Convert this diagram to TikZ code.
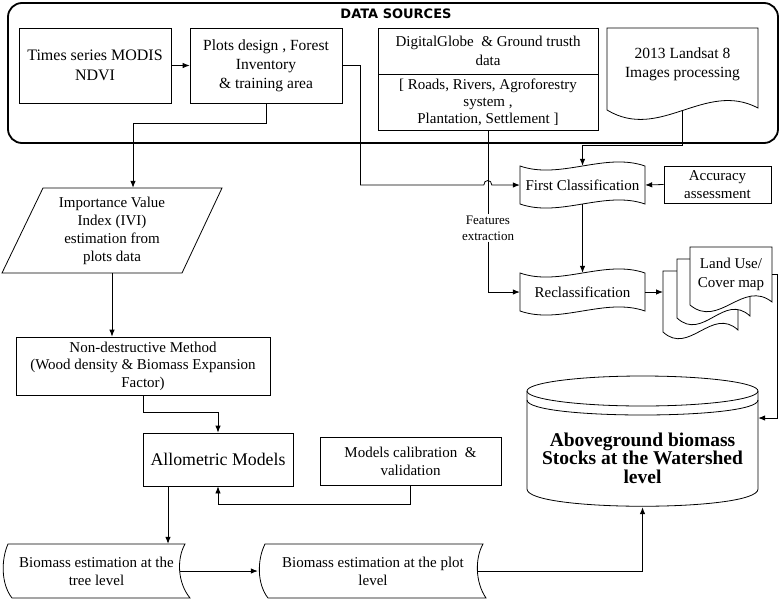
\documentclass[tikz,border=0pt]{standalone}
\usepackage{fontspec}
\setmainfont{Liberation Serif}
\newfontfamily\headfont{DejaVu Sans}
\usetikzlibrary{arrows.meta,positioning}

\begin{document}
\begin{tikzpicture}[x=1pt,y=-1pt,
	box/.style={draw,fill=white,line width=0.8pt,align=center,inner sep=0pt,font=\fontsize{15}{19}\selectfont},
	txt/.style={align=center,inner sep=0pt,font=\fontsize{15}{19}\selectfont},
	shp/.style={draw,fill=white,line width=0.8pt},
	conn/.style={line width=0.8pt,-{Latex[length=7pt,width=5.5pt]}}]
	\useasboundingbox (0,0) rectangle (784,600);
	% data sources frame
	\draw[line width=1.8pt,rounded corners=14pt] (8,3) rectangle (778,143);
	\node[font=\headfont\bfseries\fontsize{13}{15}\selectfont] (title) at (396,14) {DATA SOURCES};
	% shapes drawn by hand
	\draw[shp] (607,110) -- (607,28) -- (758,28) -- (758,108) .. controls (705,80) and (660,142) .. (607,110) -- cycle;
	\coordinate (lsbot) at (682.5,110.5);
	\draw[shp] (520,166) .. controls (560,180) and (605,152) .. (645,166) -- (645,204) .. controls (605,190) and (560,218) .. (520,204) -- cycle;
	\draw[shp] (520,273) .. controls (560,287) and (605,259) .. (645,273) -- (645,311) .. controls (605,297) and (560,325) .. (520,311) -- cycle;
	\draw[shp] (663,332) -- (663,271) -- (738,271) -- (738,330) .. controls (712,306) and (689,356) .. (663,332) -- cycle;
	\draw[shp] (677,318) -- (677,259) -- (750,259) -- (750,316) .. controls (724,292) and (703,342) .. (677,318) -- cycle;
	\draw[shp] (690,305) -- (690,247) -- (772,247) -- (772,302) .. controls (743,279) and (719,329) .. (690,305) -- cycle;
	\coordinate (mdoc) at (663,292);
	\draw[shp] (2,273) -- (43,188) -- (222,188) -- (182,273) -- cycle;
	\draw[shp] (8,544) -- (185,544) .. controls (177,558) and (177,582) .. (190,598) -- (12,598) .. controls (1,584) and (1,560) .. (8,544) -- cycle;
	\draw[shp] (265,544) -- (483,544) .. controls (475,558) and (475,582) .. (486,598) -- (268,598) .. controls (257,584) and (257,560) .. (265,544) -- cycle;
	% cylinder
	\draw[line width=0.8pt] (527,391) -- (527,489) .. controls (527,512) and (758,512) .. (758,489) -- (758,391);
	\draw[line width=0.8pt] (642.5,391) ellipse [x radius=115.5,y radius=15];
	\draw[line width=0.8pt] (527,400) .. controls (527,420) and (758,420) .. (758,400);
	% nodes
	\node[box,minimum width=152pt,minimum height=75pt,font=\fontsize{16}{20}\selectfont] (modis) at (95,65.5) {Times series MODIS\\NDVI};
	\node[box,minimum width=152pt,minimum height=75pt,font=\fontsize{15.5}{19}\selectfont] (plots) at (266,65.5) {Plots design , Forest\\Inventory\\\& training area};
	\node[box,minimum width=220pt,minimum height=46pt] (dgtop) at (488,51) {DigitalGlobe \ \& Ground trusth\\data};
	\node[box,minimum width=220pt,minimum height=56pt,font=\fontsize{15}{17}\selectfont] (dgbot) at (488,102) {[ Roads, Rivers, Agroforestry\\system ,\\Plantation, Settlement ]};
	\node[txt,minimum width=151pt,minimum height=72pt,font=\fontsize{15.5}{19}\selectfont] (landsat) at (682.5,64) {2013 Landsat 8\\Images processing};
	\node[txt,minimum width=125pt,minimum height=38pt] (fc) at (582.5,185) {First Classification};
	\node[txt,minimum width=125pt,minimum height=38pt] (rc) at (582.5,292) {Reclassification};
	\node[box,minimum width=107pt,minimum height=37pt,font=\fontsize{15}{18}\selectfont] (acc) at (717.5,184.5) {Accuracy\\assessment};
	\node[txt,minimum width=82pt,minimum height=58pt] (lum) at (731,274) {Land Use/\\Cover map};
	\node[txt,minimum width=220pt,minimum height=85pt,font=\fontsize{15}{18}\selectfont] (ivi) at (112,230.5) {Importance Value\\Index (IVI)\\estimation from\\plots data};
	\node[box,minimum width=254pt,minimum height=58pt,font=\fontsize{15}{17.5}\selectfont] (ndm) at (143,366) {Non-destructive Method\\(Wood density \& Biomass Expansion\\Factor)};
	\node[box,minimum width=150pt,minimum height=53pt,font=\fontsize{17.8}{20}\selectfont] (allo) at (218,459.5) {Allometric Models};
	\node[box,minimum width=181pt,minimum height=48pt,font=\fontsize{15}{18}\selectfont] (calib) at (410.5,461) {Models calibration \ \&\\validation};
	\node[txt,minimum width=177pt,minimum height=54pt,font=\fontsize{15}{18}\selectfont] (bmt) at (96.5,571) {Biomass estimation at the\\tree level};
	\node[txt,minimum width=220pt,minimum height=54pt,font=\fontsize{15}{18}\selectfont] (bmp) at (373,571) {Biomass estimation at the plot\\level};
	\node[txt,minimum width=231pt,minimum height=98pt,font=\bfseries\fontsize{19.5}{18.5}\selectfont] (agb) at (642.5,458) {Aboveground biomass\\Stocks at the Watershed\\level};
	\node[txt,fill=white,inner sep=1pt,font=\fontsize{13}{16}\selectfont] (fe) at (488,228) {Features\\extraction};
	% connectors
	\draw[conn] (modis) -- (plots);
	\draw[conn] (plots.east) -- ++(18,0) |- ([xshift=-36pt]fc.west) .. controls +(0,-6) and +(0,-6) .. ([xshift=-28pt]fc.west) -- (fc.west);
	\draw[conn] (plots.south) -- ++(0,20) -| ([xshift=21pt]ivi.north);
	\draw[conn] (dgbot.south) -- (fe) -- (fe |- rc.west) -- (rc.west);
	\draw[conn] (lsbot) -- ++(0,34.5) -| (fc.north);
	\draw[conn] (acc.west) -- (fc.east);
	\draw[conn] (fc) -- (rc);
	\draw[conn] (rc.east) -- (mdoc);
	\draw[conn] (lum.east) -- ++(5,0) |- ([yshift=40pt]agb.east);
	\draw[conn] (ivi.south) -- (ivi.south |- ndm.north);
	\draw[conn] (ndm.south) -- ++(0,17) -| (allo.north);
	\draw[conn] (calib.south) -- ++(0,19) -| (allo.south);
	\draw[conn] ([xshift=-50pt]allo.south) -- ([xshift=-50pt]allo.south |- bmt.north);
	\draw[conn] ([xshift=-5pt]bmt.east) -- ([xshift=-5pt]bmp.west);
	\draw[conn] ([xshift=-6pt]bmp.east) -| (agb.south);
\end{tikzpicture}
\end{document}
